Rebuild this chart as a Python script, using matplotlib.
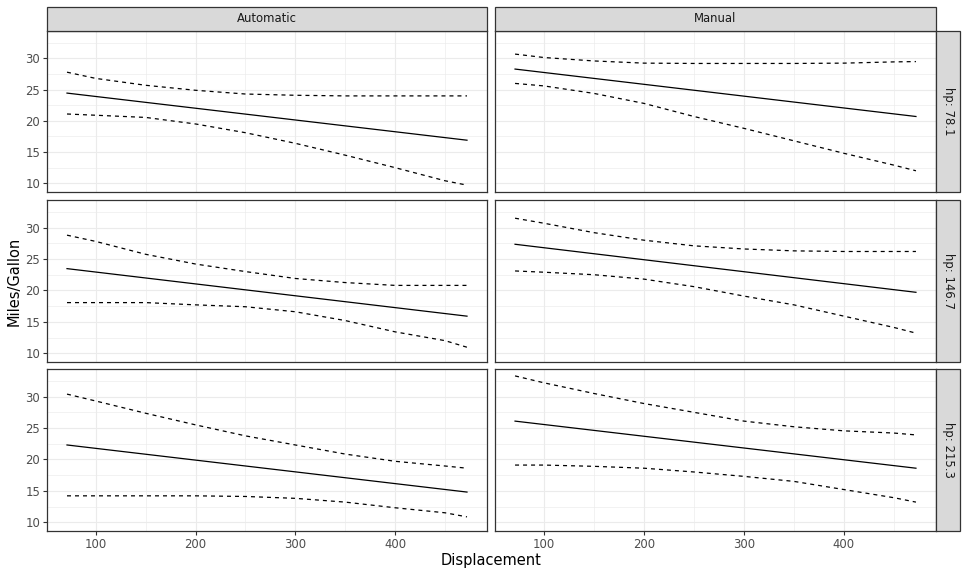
import matplotlib
matplotlib.use("Agg")
import matplotlib.pyplot as plt
from matplotlib.patches import Rectangle
from matplotlib.ticker import MultipleLocator

# facet labels
cols = ["Automatic", "Manual"]
rows = ["hp: 78.1", "hp: 146.7", "hp: 215.3"]

# x positions where the bands were read
disp = [71.1, 100, 150, 200, 250, 300, 350, 400, 450, 472]
disp_ends = [71.1, 472]

# fitted line (straight), start/end values per panel
fit = {
    ("Automatic", 0): [24.45, 16.9],
    ("Manual", 0): [28.3, 20.7],
    ("Automatic", 1): [23.47, 15.9],
    ("Manual", 1): [27.35, 19.7],
    ("Automatic", 2): [22.3, 14.8],
    ("Manual", 2): [26.1, 18.6],
}

upper = {
    ("Automatic", 0): [27.8, 26.8, 25.7, 24.9, 24.3, 24.1, 24.0, 24.0, 24.0, 24.0],
    ("Manual", 0): [30.7, 30.15, 29.6, 29.25, 29.2, 29.2, 29.2, 29.25, 29.45, 29.5],
    ("Automatic", 1): [28.8, 27.8, 25.75, 24.2, 23.0, 21.9, 21.25, 20.8, 20.8, 20.8],
    ("Manual", 1): [31.5, 30.7, 29.2, 28.0, 27.1, 26.6, 26.3, 26.2, 26.2, 26.2],
    ("Automatic", 2): [30.4, 29.3, 27.35, 25.5, 23.75, 22.3, 20.85, 19.7, 18.95, 18.6],
    ("Manual", 2): [33.3, 32.2, 30.5, 28.9, 27.5, 26.1, 25.2, 24.55, 24.2, 23.9],
}

lower = {
    ("Automatic", 0): [21.1, 20.9, 20.55, 19.5, 18.1, 16.4, 14.5, 12.5, 10.4, 9.7],
    ("Manual", 0): [26.0, 25.6, 24.4, 22.8, 20.7, 18.8, 16.8, 14.8, 12.9, 12.0],
    ("Automatic", 1): [18.06, 18.06, 18.06, 17.7, 17.4, 16.6, 15.2, 13.4, 12.0, 10.95],
    ("Manual", 1): [23.1, 22.9, 22.5, 21.8, 20.6, 19.1, 17.7, 15.9, 14.1, 13.2],
    ("Automatic", 2): [14.2, 14.2, 14.2, 14.2, 14.1, 13.8, 13.2, 12.3, 11.5, 10.85],
    ("Manual", 2): [19.1, 19.1, 18.9, 18.6, 18.0, 17.3, 16.5, 15.2, 13.9, 13.2],
}

W, H = 967, 576
fig = plt.figure(figsize=(W / 100, H / 100), dpi=100)
fig.patch.set_facecolor("white")

col_x = [(47, 487), (495, 936)]
row_y = [(31, 192), (200, 362), (369, 531)]
strip_h = 24
border = "#333333"


def fx(px):
    return px / W


def fy(py):
    return 1 - py / H


for r, (y0, y1) in enumerate(row_y):
    for c, (x0, x1) in enumerate(col_x):
        ax = fig.add_axes([fx(x0), fy(y1), fx(x1 - x0), (y1 - y0) / H])
        key = (cols[c], r)
        ax.plot(disp_ends, fit[key], color="black", lw=0.9)
        ax.plot(disp, upper[key], color="black", lw=0.9, dashes=(3.2, 3.2))
        ax.plot(disp, lower[key], color="black", lw=0.9, dashes=(3.2, 3.2))
        ax.set_xlim(51.05, 492.05)
        ax.set_ylim(8.6, 34.4)
        ax.xaxis.set_major_locator(MultipleLocator(100))
        ax.xaxis.set_minor_locator(MultipleLocator(50))
        ax.yaxis.set_major_locator(MultipleLocator(5))
        ax.yaxis.set_minor_locator(MultipleLocator(2.5))
        ax.grid(which="major", color="#EBEBEB", lw=0.8)
        ax.grid(which="minor", color="#EBEBEB", lw=0.45)
        ax.set_axisbelow(True)
        for s in ax.spines.values():
            s.set_color(border)
            s.set_linewidth(0.9)
        ax.tick_params(which="minor", length=0)
        ax.tick_params(which="major", length=3, width=0.8, color=border,
                       labelsize=8.4, labelcolor="#4D4D4D", pad=2)
        if c != 0:
            ax.tick_params(labelleft=False, left=False)
        if r != 2:
            ax.tick_params(labelbottom=False, bottom=False)

# top strips
for c, (x0, x1) in enumerate(col_x):
    y0 = row_y[0][0] - strip_h
    fig.patches.append(Rectangle((fx(x0), fy(row_y[0][0])), fx(x1 - x0), strip_h / H,
                                 transform=fig.transFigure, facecolor="#D9D9D9",
                                 edgecolor=border, lw=0.9))
    fig.text(fx((x0 + x1) / 2), fy(y0 + strip_h / 2), cols[c], ha="center", va="center",
             fontsize=8.4, color="#1A1A1A")

# right strips
sx0 = col_x[1][1]
for r, (y0, y1) in enumerate(row_y):
    fig.patches.append(Rectangle((fx(sx0), fy(y1)), strip_h / W, (y1 - y0) / H,
                                 transform=fig.transFigure, facecolor="#D9D9D9",
                                 edgecolor=border, lw=0.9))
    fig.text(fx(sx0 + strip_h / 2), fy((y0 + y1) / 2), rows[r], ha="center", va="center",
             rotation=-90, fontsize=8.4, color="#1A1A1A")

fig.text(fx((col_x[0][0] + col_x[1][1]) / 2), fy(561), "Displacement", ha="center",
         va="center", fontsize=10.5, color="black")
fig.text(fx(14), fy((row_y[0][0] + row_y[2][1]) / 2), "Miles/Gallon", ha="center",
         va="center", rotation=90, fontsize=10.5, color="black")

fig.savefig("out.png", dpi=100)
